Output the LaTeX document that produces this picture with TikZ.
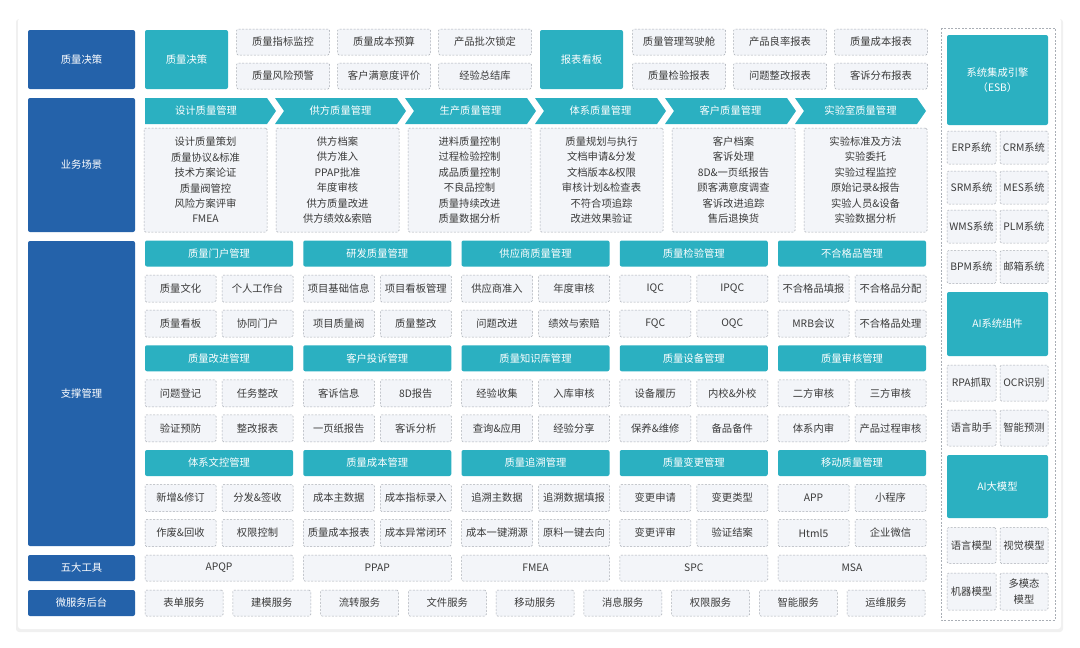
\documentclass[tikz,border=0pt]{standalone}
\usepackage{fontspec}
\setmainfont{Noto Sans CJK SC}
\usetikzlibrary{positioning}
\definecolor{qblue}{HTML}{2462AA}
\definecolor{qteal}{HTML}{2BB0C1}
\definecolor{qlight}{HTML}{F3F5F9}
\definecolor{qgray}{HTML}{A9AEB5}
\definecolor{qtext}{HTML}{3A3A3A}

\tikzset{
  txt/.style={inner sep=0pt, align=center, font=\fontsize{10.3}{15.4}\selectfont},
  sz/.style 2 args={minimum width=#1pt, minimum height=#2pt},
  sidebox/.style={txt, fill=qblue, rounded corners=2pt, text=white},
  headbox/.style={txt, fill=qteal, rounded corners=2pt, text=white},
  itembox/.style={txt, draw=qgray, fill=qlight, dash pattern=on 2pt off 1.5pt, rounded corners=1.5pt, text=qtext, line width=0.5pt},
}

\begin{document}
\begin{tikzpicture}[x=1pt, y=-1pt]
\useasboundingbox (0,0) rectangle (1080,648);

% card
\fill[black!6, rounded corners=3pt] (16,19) rectangle (1063,632);
\fill[white, rounded corners=3pt] (18,18) rectangle (1061,629);

% left column
\node[sidebox, sz={107}{59}] (juece) at (81.5,59.5) {质量决策};
\node[sidebox, sz={107}{134}] (changjing) at (81.5,165) {业务场景};
\node[sidebox, sz={107}{305}] (zhicheng) at (81.5,393.5) {支撑管理};
\node[sidebox, sz={107}{26}] (gongju) at (81.5,568) {五大工具};
\node[sidebox, sz={107}{26}] (houtai) at (81.5,603) {微服务后台};

% quality decision
\node[headbox, sz={83}{59}] (jc) at (186.5,59.5) {质量决策};
\foreach \cx/\cy/\t/\n in {283/42/质量指标监控/jc1, 384/42/质量成本预算/jc2, 485/42/产品批次锁定/jc3,
                           283/76/质量风险预警/jc4, 384/76/客户满意度评价/jc5, 485/76/经验总结库/jc6}
  \node[itembox, sz={93}{26}] (\n) at (\cx,\cy) {\t};

% report board
\node[headbox, sz={83}{59}] (bb) at (581.5,59.5) {报表看板};
\foreach \cx/\cy/\t/\n in {679/42/质量管理驾驶舱/bb1, 780/42/产品良率报表/bb2, 881/42/质量成本报表/bb3,
                           679/76/质量检验报表/bb4, 780/76/问题整改报表/bb5, 881/76/客诉分布报表/bb6}
  \node[itembox, sz={93}{26}] (\n) at (\cx,\cy) {\t};

% business scenes: chevrons
\foreach \t [count=\i from 0] in {设计质量管理,供方质量管理,生产质量管理,体系质量管理,客户质量管理,实验室质量管理} {
  \pgfmathsetmacro\L{145+130*\i}
  \pgfmathsetmacro\R{\L+122}
  \ifnum\i=0
    \fill[qteal] (\L,98) -- (\R,98) -- (\R+9,111) -- (\R,124) -- (\L,124) -- cycle;
    \node[txt, text=white] (lc-\i) at ({(\L+\R)/2},111) {\t};
  \else
    \fill[qteal] (\L,98) -- (\R,98) -- (\R+9,111) -- (\R,124) -- (\L,124) -- (\L+9,111) -- cycle;
    \node[txt, text=white] (lc-\i) at ({(\L+\R)/2+4.5},111) {\t};
  \fi
}

% business scenes: details
\foreach \t [count=\i from 0] in {
  {设计质量策划\\质量协议\&标准\\技术方案论证\\质量阀管控\\风险方案评审\\FMEA},
  {供方档案\\供方准入\\PPAP批准\\年度审核\\供方质量改进\\供方绩效\&索赔},
  {进料质量控制\\过程检验控制\\成品质量控制\\不良品控制\\质量持续改进\\质量数据分析},
  {质量规划与执行\\文档申请\&分发\\文档版本\&权限\\审核计划\&检查表\\不符合项追踪\\改进效果验证},
  {客户档案\\客诉处理\\8D\&一页纸报告\\顾客满意度调查\\客诉改进追踪\\售后退换货},
  {实验标准及方法\\实验委托\\实验过程监控\\原始记录\&报告\\实验人员\&设备\\实验数据分析}}
  \node[itembox, sz={123}{104}] (xq-\i) at (205.5+132*\i,180) {\t};

% support management
\foreach \b/\j/\h/\p/\q/\r/\s in {
  0/0/质量门户管理/质量文化/个人工作台/质量看板/协同门户,
  0/1/研发质量管理/项目基础信息/项目看板管理/项目质量阀/质量整改,
  0/2/供应商质量管理/供应商准入/年度审核/问题改进/绩效与索赔,
  0/3/质量检验管理/IQC/IPQC/FQC/OQC,
  0/4/不合格品管理/不合格品填报/不合格品分配/MRB会议/不合格品处理,
  1/0/质量改进管理/问题登记/任务整改/验证预防/整改报表,
  1/1/客户投诉管理/客诉信息/8D报告/一页纸报告/客诉分析,
  1/2/质量知识库管理/经验收集/入库审核/查询\&应用/经验分享,
  1/3/质量设备管理/设备履历/内校\&外校/保养\&维修/备品备件,
  1/4/质量审核管理/二方审核/三方审核/体系内审/产品过程审核,
  2/0/体系文控管理/新增\&修订/分发\&签收/作废\&回收/权限控制,
  2/1/质量成本管理/成本主数据/成本指标录入/质量成本报表/成本异常闭环,
  2/2/质量追溯管理/追溯主数据/追溯数据填报/成本一键溯源/原料一键去向,
  2/3/质量变更管理/变更申请/变更类型/变更评审/验证结案,
  2/4/移动质量管理/APP/小程序/Html5/企业微信} {
  \pgfmathsetmacro\gx{145+158.25*\j}
  \pgfmathsetmacro\gy{253.5+104.75*\b}
  \node[headbox, sz={148}{26}] (zc-\b-\j) at (\gx+74,\gy) {\h};
  \node[itembox, sz={71}{27}] (zc-\b-\j-1) at (\gx+35.5,\gy+35) {\p};
  \node[itembox, sz={71}{27}] (zc-\b-\j-2) at (\gx+112.5,\gy+35) {\q};
  \node[itembox, sz={71}{27}] (zc-\b-\j-3) at (\gx+35.5,\gy+70) {\r};
  \node[itembox, sz={71}{27}] (zc-\b-\j-4) at (\gx+112.5,\gy+70) {\s};
}

% five tools
\foreach \t [count=\j from 0] in {APQP,PPAP,FMEA,SPC,MSA}
  \node[itembox, sz={148}{26}] (gj-\j) at (219+158.25*\j,568) {\t};

% micro services
\foreach \t [count=\i from 0] in {表单服务,建模服务,流转服务,文件服务,移动服务,消息服务,权限服务,智能服务,运维服务}
  \node[itembox, sz={78}{26}] (fw-\i) at (184+87.75*\i,603) {\t};

% right column
\draw[qgray, line width=0.5pt, dash pattern=on 2pt off 1.5pt] (941,28) rectangle (1055,620);
\node[headbox, sz={101}{90}] (esb) at (997.5,80) {系统集成引擎\\（ESB）};
\node[headbox, sz={101}{64}] (aizj) at (997.5,324) {AI系统组件};
\node[headbox, sz={101}{63}] (aimx) at (997.5,486.5) {AI大模型};
\foreach \cy/\h/\p/\q/\n in {147.5/33/ERP系统/CRM系统/xt1, 187.5/33/SRM系统/MES系统/xt2,
                             226.5/33/WMS系统/PLM系统/xt3, 267/33/BPM系统/邮箱系统/xt4,
                             383/36/RPA抓取/OCR识别/zj1, 428/36/语言助手/智能预测/zj2,
                             545.5/36/语言模型/视觉模型/mx1, 591.5/37/机器模型/多模态\\模型/mx2} {
  \node[itembox, sz={49}{\h}] (\n-a) at (971.5,\cy) {\p};
  \node[itembox, sz={48}{\h}] (\n-b) at (1024,\cy) {\q};
}

\end{tikzpicture}
\end{document}
